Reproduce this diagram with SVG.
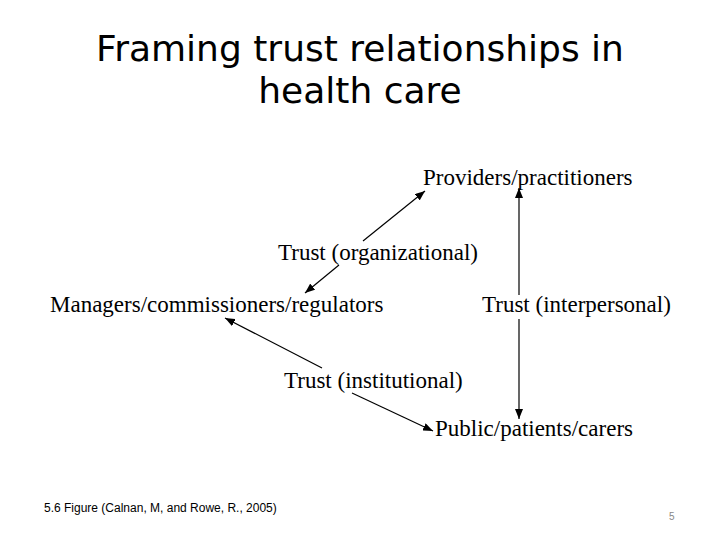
<svg xmlns="http://www.w3.org/2000/svg" width="720" height="540" viewBox="0 0 720 540">
<style>
.title{font-family:"DejaVu Sans",Verdana,sans-serif;font-size:36px;fill:#000;text-anchor:middle}
.lbl{font-family:"Liberation Serif","Times New Roman",serif;font-size:23px;fill:#000}
.conn{stroke:#000;stroke-width:1.2;fill:none;marker-end:url(#ah)}
.plain{stroke:#000;stroke-width:1.2;fill:none}
.foot{font-family:"Liberation Sans",Arial,sans-serif;font-size:12px;fill:#000}
.pg{font-family:"Liberation Sans",Arial,sans-serif;font-size:10px;fill:#888}
</style>
<defs>
<marker id="ah" viewBox="0 0 10 8" refX="10" refY="4" markerWidth="10" markerHeight="8" markerUnits="userSpaceOnUse" orient="auto-start-reverse">
<path d="M0,0 L10,4 L0,8 Z" fill="#000"/>
</marker>
</defs>
<rect width="720" height="540" fill="#fff"/>
<g id="title">
<text class="title" x="360" y="61">Framing trust relationships in</text>
<text class="title" x="360" y="103">health care</text>
</g>
<g id="connectors">
<line class="conn" x1="363" y1="241" x2="425" y2="191"/>
<line class="conn" x1="339" y1="265" x2="305" y2="293"/>
<line class="conn" x1="519" y1="295" x2="519" y2="188"/>
<line class="conn" x1="519" y1="319" x2="519" y2="419"/>
<line class="conn" x1="322" y1="368" x2="225" y2="318"/>
<line class="conn" x1="352" y1="393" x2="433" y2="431"/>
</g>
<g id="providers"><text class="lbl" x="423" y="185">Providers/practitioners</text></g>
<g id="trust-org"><text class="lbl" x="278" y="260">Trust (organizational)</text></g>
<g id="managers"><text class="lbl" x="50" y="312">Managers/commissioners/regulators</text></g>
<g id="trust-inter"><text class="lbl" x="482" y="312">Trust (interpersonal)</text></g>
<g id="trust-inst"><text class="lbl" x="284" y="388">Trust (institutional)</text></g>
<g id="public"><text class="lbl" x="435" y="436">Public/patients/carers</text></g>
<g id="footer">
<text class="foot" x="44" y="512">5.6 Figure (Calnan, M, and Rowe, R., 2005)</text>
<text class="pg" x="669" y="520">5</text>
</g>
</svg>
